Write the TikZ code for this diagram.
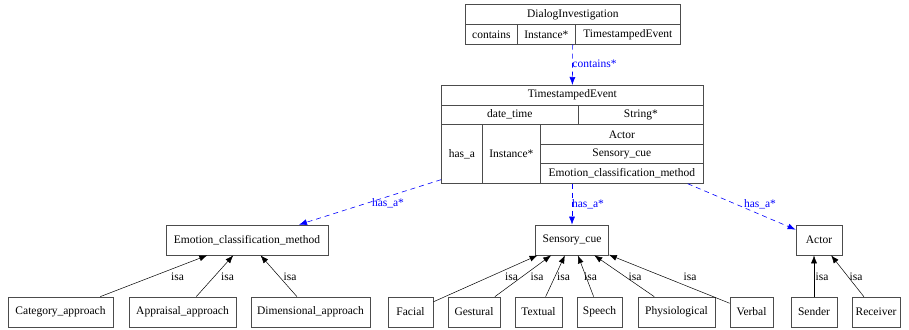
\documentclass[tikz,border=0pt]{standalone}
\usepackage{fontspec}
\setmainfont{Liberation Serif}
\usetikzlibrary{arrows.meta}

\begin{document}
\begin{tikzpicture}[>={Latex[length=8pt,width=6pt]}, x=1pt, y=-1pt,
  font=\fontsize{11.5}{13}\selectfont,
  cell/.style={draw=black!70, line width=0.7pt, inner sep=0pt, anchor=north west},
  box/.style={draw=black!70, line width=0.7pt, inner sep=0pt, minimum height=30pt},
  hasa/.style={blue, dashed, dash pattern=on 5pt off 4pt, line width=0.6pt, ->},
  isa/.style={black, line width=0.5pt, ->},
  lbl/.style={inner sep=0pt},
  blbl/.style={inner sep=0pt, text=blue}]
\useasboundingbox (0,0) rectangle (909,329);

% DialogInvestigation record
\node[cell, minimum width=215pt, minimum height=20pt] (dtitle) at (465,4) {DialogInvestigation};
\node[cell, minimum width=52pt, minimum height=20pt] (dcont) at (465,24) {contains};
\node[cell, minimum width=58pt, minimum height=20pt] (dinst) at (517,24) {Instance*};
\node[cell, minimum width=105pt, minimum height=20pt] (dtype) at (575,24) {TimestampedEvent};

% TimestampedEvent record
\node[cell, minimum width=262pt, minimum height=19.6pt] (tstitle) at (441,85) {TimestampedEvent};
\node[cell, minimum width=137pt, minimum height=19.6pt] (datecell) at (441,104.6) {date\_time};
\node[cell, minimum width=125pt, minimum height=19.6pt] (strcell) at (578,104.6) {String*};
\node[cell, minimum width=41pt, minimum height=58.8pt] (hascell) at (441,124.2) {has\_a};
\node[cell, minimum width=58pt, minimum height=58.8pt] (instcell) at (482,124.2) {Instance*};
\node[cell, minimum width=163pt, minimum height=19.6pt] (actorcell) at (540,124.2) {Actor};
\node[cell, minimum width=163pt, minimum height=19.6pt] (sccell) at (540,143.8) {Sensory\_cue};
\node[cell, minimum width=163pt, minimum height=19.6pt] (ecmcell) at (540,163.4) {Emotion\_classification\_method};

% middle row
\node[box, minimum width=162pt] (ecm) at (247,240) {Emotion\_classification\_method};
\node[box, minimum width=73pt] (sc) at (572,240) {Sensory\_cue};
\node[box, minimum width=46pt] (actor) at (819,240) {Actor};

% bottom row
\foreach \name/\x/\w/\txt in {cat/60.5/105/Category\_approach, app/182.5/107/Appraisal\_approach,
    dim/310.5/119/Dimensional\_approach, fac/410.5/45/Facial, ges/474/52/Gestural,
    tex/538.5/47/Textual, spe/599.5/45/Speech, phy/676.5/77/Physiological,
    ver/751.5/43/Verbal, sen/814/46/Sender, rec/876/48/Receiver} {
  \node[box, minimum width=\w pt] (\name) at (\x,312) {\txt};
}

% has_a / contains edges
\draw[hasa] ([xshift=-3pt]dinst.south east) -- (tstitle.north);
\node[blbl] (lcont) at (594.5,64) {contains*};
\draw[hasa] ([yshift=4pt]hascell.south west) -- ([xshift=52pt]ecm.north);
\node[blbl] (lhas1) at (388,203) {has\_a*};
\draw[hasa] (ecmcell.south -| sc.north) -- (sc.north);
\node[blbl] (lhas2) at (588,204) {has\_a*};
\draw[hasa] ([xshift=-16pt]ecmcell.south east) -- ([yshift=-5pt]actor.north west);
\node[blbl] (lhas3) at (760,204) {has\_a*};

% isa edges
\foreach \a/\b/\lx in {cat/ecm/177.5, app/ecm/227.5, dim/ecm/290, fac/sc/511.5,
    ges/sc/537, tex/sc/563.5, spe/sc/590.5, phy/sc/635, ver/sc/690, rec/actor/856} {
  \draw[isa] (\a) -- (\b);
  \node[lbl] (isa-\a) at (\lx,277) {isa};
}
\draw[isa] (sen) -- (sen |- actor.south);
\node[lbl] (isa-sen) at (822,277) {isa};
\end{tikzpicture}
\end{document}
